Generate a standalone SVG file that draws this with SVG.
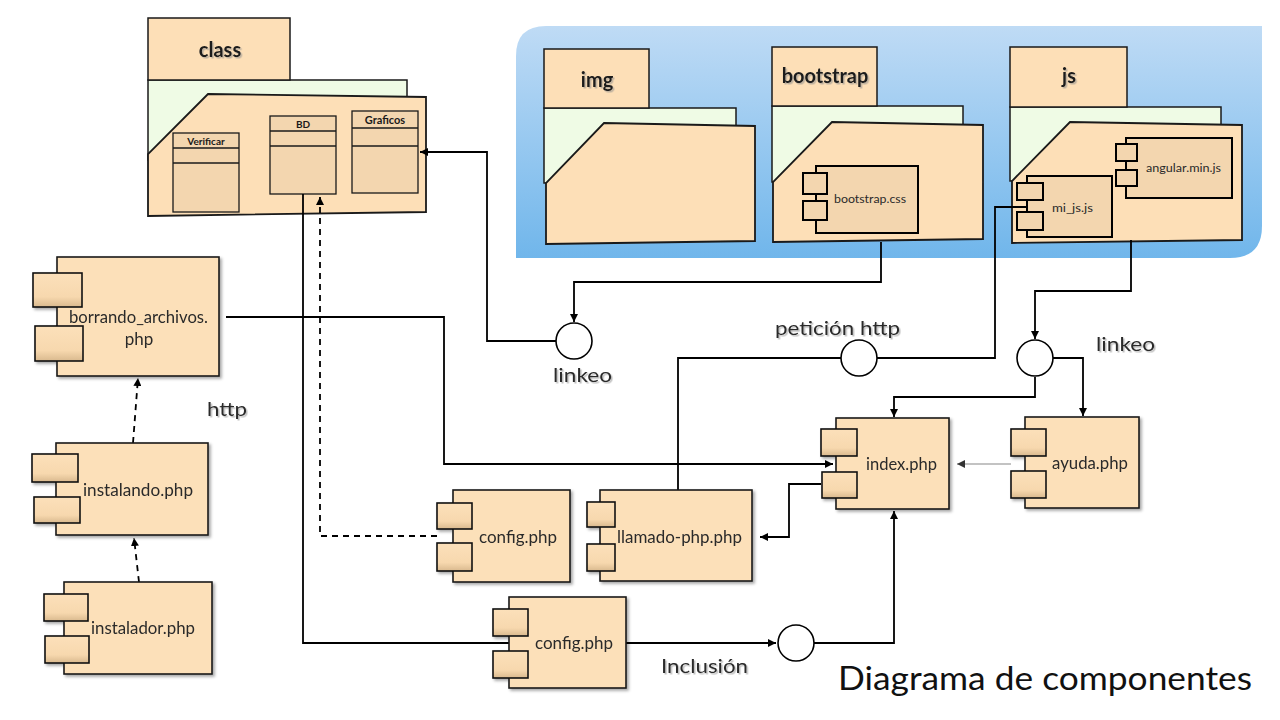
<svg xmlns="http://www.w3.org/2000/svg" width="1280" height="720" viewBox="0 0 1280 720">
<defs>
<linearGradient id="blueBg" x1="0" y1="0" x2="0" y2="1">
<stop offset="0" stop-color="#BFDBF5"/>
<stop offset="1" stop-color="#70B6EB"/>
</linearGradient>
<linearGradient id="boxGrad" x1="0" y1="0" x2="0" y2="1">
<stop offset="0" stop-color="#FCE0BA"/>
<stop offset="0.7" stop-color="#F7D8AE"/>
<stop offset="1" stop-color="#D9B98E"/>
</linearGradient>
<filter id="shadow" x="-10%" y="-10%" width="130%" height="130%">
<feDropShadow dx="2" dy="2" stdDeviation="1.5" flood-color="#000" flood-opacity="0.35"/>
</filter>
<filter id="tshadow" x="-5%" y="-20%" width="115%" height="150%">
<feDropShadow dx="1.5" dy="1.5" stdDeviation="0.6" flood-color="#888" flood-opacity="0.55"/>
</filter>
<marker id="arr" viewBox="0 0 10 10" refX="10" refY="5" markerWidth="8" markerHeight="8" markerUnits="userSpaceOnUse" orient="auto">
<path d="M0,0 L10,5 L0,10 Z" fill="#000"/>
</marker>
<marker id="arrg" viewBox="0 0 10 10" refX="10" refY="5" markerWidth="8" markerHeight="8" markerUnits="userSpaceOnUse" orient="auto">
<path d="M0,0 L10,5 L0,10 Z" fill="#333"/>
</marker>
</defs>
<style>
.tab{fill:#FDDFB7;stroke:#1a1a1a;stroke-width:1.5}
.back{fill:#EFFBE5;stroke:#1a1a1a;stroke-width:1.5}
.front{fill:#FDDFB7;stroke:#1a1a1a;stroke-width:1.8}
.cls{fill:#F3D6AF;stroke:#1a1a1a;stroke-width:1.3}
.cmp{fill:#FCE0B9;stroke:#1a1a1a;stroke-width:1.6}
.inner{fill:#F3D6AF;stroke:#000;stroke-width:2}
.sb{fill:url(#boxGrad);stroke:#111;stroke-width:1.6}
.isb{fill:#F3D6AF;stroke:#000;stroke-width:2}
.lbl{font-family:Lato,"Open Sans","DejaVu Sans",sans-serif;fill:#2a2a2a}
.pk{font-family:Lato,"Open Sans","DejaVu Sans",sans-serif;font-weight:bold;font-size:20px;fill:#1a1a1a}
.cl{font-family:Lato,"Open Sans","DejaVu Sans",sans-serif;font-weight:bold;fill:#1a1a1a}
.con{fill:none;stroke:#000;stroke-width:1.8}
.dash{stroke-dasharray:6,5}
.circ{fill:#fff;stroke:#000;stroke-width:1.6}
</style>
<rect width="1280" height="720" fill="#fff"/>
<path d="M516,258 L516,56 Q516,26 546,26 L1262,26 L1262,226 Q1262,258 1230,258 Z" fill="url(#blueBg)"/>

<g id="pkg-class">
<rect class="back" x="148" y="80" width="259" height="80"/>
<rect class="tab" x="148" y="18" width="142" height="62"/>
<polygon class="front" points="208,94 426,97 426,212 148,216 148,154"/>
<text class="pk" x="220" y="57" text-anchor="middle" filter="url(#tshadow)">class</text>
<g id="cls-verificar">
<rect class="cls" x="173" y="133" width="66" height="79"/>
<line x1="173" y1="148" x2="239" y2="148" stroke="#1a1a1a" stroke-width="1.3"/>
<line x1="173" y1="163" x2="239" y2="163" stroke="#1a1a1a" stroke-width="1.3"/>
<text class="cl" x="206" y="145" font-size="10" text-anchor="middle">Verificar</text>
</g>
<g id="cls-bd">
<rect class="cls" x="270" y="116" width="66" height="78"/>
<line x1="270" y1="131" x2="336" y2="131" stroke="#1a1a1a" stroke-width="1.3"/>
<line x1="270" y1="146" x2="336" y2="146" stroke="#1a1a1a" stroke-width="1.3"/>
<text class="cl" x="303" y="128" font-size="10" text-anchor="middle">BD</text>
</g>
<g id="cls-graficos">
<rect class="cls" x="352" y="111" width="66" height="82"/>
<line x1="352" y1="128" x2="418" y2="128" stroke="#1a1a1a" stroke-width="1.3"/>
<line x1="352" y1="146" x2="418" y2="146" stroke="#1a1a1a" stroke-width="1.3"/>
<text class="cl" x="385" y="124" font-size="11" text-anchor="middle">Graficos</text>
</g>
</g>

<g id="pkg-img">
<rect class="back" x="544" y="108" width="192" height="75"/>
<rect class="tab" x="544" y="49" width="105" height="59"/>
<polygon class="front" points="604,123 755,126 755,241 546,244 546,183"/>
<text class="pk" x="597" y="87" text-anchor="middle" filter="url(#tshadow)">img</text>
</g>

<g id="pkg-bootstrap">
<rect class="back" x="772" y="106" width="191" height="76"/>
<rect class="tab" x="772" y="47" width="105" height="59"/>
<polygon class="front" points="832,122 983,125 983,239 773,242 773,182"/>
<text class="pk" x="825" y="83" text-anchor="middle" filter="url(#tshadow)">bootstrap</text>
<g id="cmp-bootstrap-css">
<rect class="inner" x="816" y="166" width="102" height="67"/>
<rect class="isb" x="803" y="173" width="24" height="21"/>
<rect class="isb" x="803" y="201" width="24" height="19"/>
<text class="lbl" x="834" y="203" font-size="11" textLength="72" lengthAdjust="spacingAndGlyphs">bootstrap.css</text>
</g>
</g>

<g id="pkg-js">
<rect class="back" x="1010" y="107" width="211" height="74"/>
<rect class="tab" x="1010" y="47" width="117" height="60"/>
<polygon class="front" points="1070,122 1242,125 1242,240 1012,243 1012,181"/>
<text class="pk" x="1069" y="83" text-anchor="middle" filter="url(#tshadow)">js</text>
<g id="cmp-angular">
<rect class="inner" x="1126" y="138" width="106" height="60"/>
<rect class="isb" x="1116" y="144" width="21" height="17"/>
<rect class="isb" x="1116" y="170" width="21" height="16"/>
<text class="lbl" x="1146" y="172" font-size="11" textLength="75" lengthAdjust="spacingAndGlyphs">angular.min.js</text>
</g>
<g id="cmp-mijs">
<rect class="inner" x="1027" y="176" width="85" height="61"/>
<rect class="isb" x="1017" y="183" width="26" height="17"/>
<rect class="isb" x="1017" y="212" width="26" height="18"/>
<text class="lbl" x="1052" y="212" font-size="11" textLength="41" lengthAdjust="spacingAndGlyphs">mi_js.js</text>
</g>
</g>

<g id="connectors">
<polyline class="con" points="226,317 444,317 444,464 833,464" marker-end="url(#arr)"/>
<polyline class="con" points="303,194 303,643 509,643"/>
<polyline class="con" points="626,643 776,643" marker-end="url(#arr)"/>
<polyline class="con" points="814,643 894,643 894,511" marker-end="url(#arr)"/>
<polyline class="con dash" points="437,536 320,536 320,197" marker-end="url(#arr)"/>
<polyline class="con dash" points="139,582 134,538" marker-end="url(#arr)"/>
<polyline class="con dash" points="133,443 138,378" marker-end="url(#arr)"/>
<polyline class="con" points="881,242 881,282 574,282 574,322" marker-end="url(#arr)"/>
<polyline class="con" points="556,341 487,341 487,152 420,152" marker-end="url(#arr)"/>
<polyline class="con" points="1027,207 995,207 995,358 877,358"/>
<polyline class="con" points="841,358 678,358 678,490"/>
<polyline class="con" points="1131,240 1131,291 1035,291 1035,339" marker-end="url(#arr)"/>
<polyline class="con" points="1053,358 1083,358 1083,416" marker-end="url(#arr)"/>
<polyline class="con" points="1035,377 1035,397 894,397 894,417" marker-end="url(#arr)"/>
<polyline class="con" points="821,484 789,484 789,537 760,537" marker-end="url(#arr)"/>
<polyline points="1011,464 957,464" fill="none" stroke="#888" stroke-width="1.2" marker-end="url(#arrg)"/>
</g>

<g id="if-linkeo1">
<circle class="circ" cx="574" cy="341" r="18"/>
<text class="lbl" x="553" y="382" font-size="20" textLength="59" lengthAdjust="spacingAndGlyphs" filter="url(#tshadow)">linkeo</text>
</g>
<g id="if-peticion">
<circle class="circ" cx="859" cy="358" r="18"/>
<text class="lbl" x="775" y="335" font-size="20" textLength="125" lengthAdjust="spacingAndGlyphs" filter="url(#tshadow)">petición http</text>
</g>
<g id="if-linkeo2">
<circle class="circ" cx="1035" cy="358" r="18"/>
<text class="lbl" x="1096" y="351" font-size="20" textLength="59" lengthAdjust="spacingAndGlyphs" filter="url(#tshadow)">linkeo</text>
</g>
<g id="if-inclusion">
<circle class="circ" cx="796" cy="643" r="18"/>
<text class="lbl" x="661" y="673" font-size="20" textLength="87" lengthAdjust="spacingAndGlyphs" filter="url(#tshadow)">Inclusión</text>
</g>
<text id="lbl-http" class="lbl" x="207" y="416" font-size="20" textLength="40" lengthAdjust="spacingAndGlyphs" filter="url(#tshadow)">http</text>

<g id="cmp-borrando" filter="url(#shadow)">
<rect class="cmp" x="57" y="257" width="162" height="119"/>
<rect class="sb" x="33" y="273" width="49" height="34"/>
<rect class="sb" x="35" y="326" width="48" height="35"/>
<text class="lbl" x="69" y="323" font-size="17" textLength="139" lengthAdjust="spacingAndGlyphs">borrando_archivos.</text>
<text class="lbl" x="139" y="345" font-size="17" text-anchor="middle">php</text>
</g>
<g id="cmp-instalando" filter="url(#shadow)">
<rect class="cmp" x="56" y="443" width="152" height="92"/>
<rect class="sb" x="32" y="454" width="46" height="28"/>
<rect class="sb" x="34" y="497" width="46" height="26"/>
<text class="lbl" x="83" y="496" font-size="17" textLength="110" lengthAdjust="spacingAndGlyphs">instalando.php</text>
</g>
<g id="cmp-instalador" filter="url(#shadow)">
<rect class="cmp" x="64" y="582" width="148" height="92"/>
<rect class="sb" x="44" y="594" width="44" height="27"/>
<rect class="sb" x="45" y="636" width="44" height="27"/>
<text class="lbl" x="91" y="634" font-size="17" textLength="104" lengthAdjust="spacingAndGlyphs">instalador.php</text>
</g>
<g id="cmp-config1" filter="url(#shadow)">
<rect class="cmp" x="453" y="490" width="117" height="92"/>
<rect class="sb" x="437" y="503" width="35" height="26"/>
<rect class="sb" x="437" y="543" width="35" height="28"/>
<text class="lbl" x="479" y="543" font-size="17" textLength="78" lengthAdjust="spacingAndGlyphs">config.php</text>
</g>
<g id="cmp-llamado" filter="url(#shadow)">
<rect class="cmp" x="600" y="490" width="152" height="91"/>
<rect class="sb" x="587" y="502" width="28" height="25"/>
<rect class="sb" x="587" y="544" width="28" height="27"/>
<text class="lbl" x="617" y="543" font-size="17" textLength="125" lengthAdjust="spacingAndGlyphs">llamado-php.php</text>
</g>
<g id="cmp-config2" filter="url(#shadow)">
<rect class="cmp" x="509" y="597" width="117" height="91"/>
<rect class="sb" x="493" y="609" width="35" height="27"/>
<rect class="sb" x="493" y="651" width="35" height="27"/>
<text class="lbl" x="535" y="649" font-size="17" textLength="78" lengthAdjust="spacingAndGlyphs">config.php</text>
</g>
<g id="cmp-index" filter="url(#shadow)">
<rect class="cmp" x="836" y="418" width="113" height="91"/>
<rect class="sb" x="821" y="429" width="36" height="27"/>
<rect class="sb" x="822" y="472" width="35" height="26"/>
<text class="lbl" x="866" y="470" font-size="17" textLength="71" lengthAdjust="spacingAndGlyphs">index.php</text>
</g>
<g id="cmp-ayuda" filter="url(#shadow)">
<rect class="cmp" x="1025" y="417" width="114" height="91"/>
<rect class="sb" x="1011" y="429" width="35" height="27"/>
<rect class="sb" x="1011" y="471" width="35" height="27"/>
<text class="lbl" x="1052" y="469" font-size="17" textLength="76" lengthAdjust="spacingAndGlyphs">ayuda.php</text>
</g>

<text id="title" x="838" y="690" font-family="Lato,'Open Sans',sans-serif" font-size="32" fill="#111" textLength="414" lengthAdjust="spacingAndGlyphs">Diagrama de componentes</text>
</svg>
